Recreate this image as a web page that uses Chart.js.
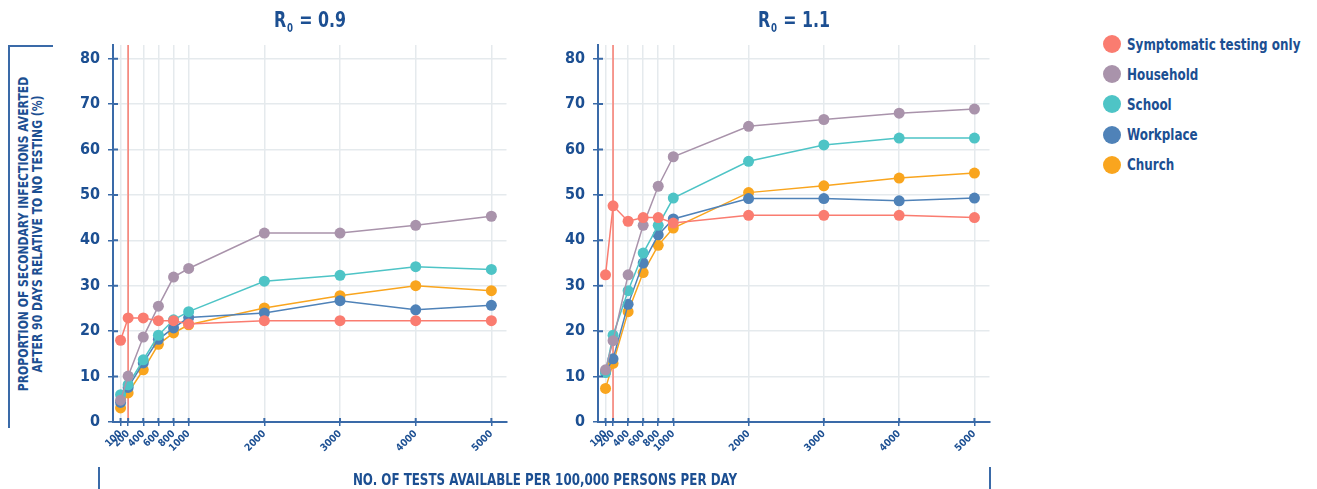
<!DOCTYPE html>
<html>
<head>
<meta charset="utf-8">
<script src="https://cdn.jsdelivr.net/npm/chart.js@4.4.1/dist/chart.umd.min.js"></script>
<style>
	body { margin: 0; width: 1317px; height: 489px; background: #fff; position: relative; overflow: hidden;
		font-family: "DejaVu Sans Condensed", "Liberation Sans", Roboto, sans-serif; color: #1c4f92; }
	canvas { position: absolute; top: 0; }
	#lowChart { left: 60px; }
	#highChart { left: 545px; }
	.title { position: absolute; top: 21px; transform: translate(-50%, -50%) scaleX(0.8); white-space: nowrap;
		font-weight: bold; font-size: 22px; }
	.title sub { font-size: 12px; vertical-align: -5px; margin: 0 1px; }
	#yBox { position: absolute; left: 8px; top: 45px; width: 45px; height: 383px;
		border-left: 2px solid #3a6aa8; border-top: 2px solid #3a6aa8; box-sizing: border-box; }
	#yTitle { position: absolute; left: 30px; top: 234px; width: 420px;
		transform: translate(-50%, -50%) rotate(-90deg) scaleX(0.86);
		text-align: center; font-weight: bold; font-size: 14px; line-height: 14px; }
	#xTitle { position: absolute; left: 545px; top: 480px; transform: translate(-50%, -50%) scaleX(0.88); white-space: nowrap;
		font-weight: bold; font-size: 15px; }
	.xMark { position: absolute; top: 467px; width: 2px; height: 22px; background: #3a6aa8; }
	#legend { position: absolute; left: 1103px; top: 29px; }
	.item { height: 30.2px; display: flex; align-items: center; font-weight: bold; font-size: 16px; white-space: nowrap; }
	.item span.txt { display: inline-block; transform: scaleX(0.83); transform-origin: left center; }
	.dot { width: 18px; height: 18px; border-radius: 50%; margin-right: 6px; flex: none; }
</style>
</head>
<body>
<div id="yBox"></div>
<div id="yTitle">PROPORTION OF SECONDARY INFECTIONS AVERTED<br>AFTER 90 DAYS RELATIVE TO NO TESTING (%)</div>
<canvas id="lowChart" width="452" height="489"></canvas>
<canvas id="highChart" width="450" height="489"></canvas>
<div class="title" style="left:310px">R<sub>0</sub> = 0.9</div>
<div class="title" style="left:794px">R<sub>0</sub> = 1.1</div>
<div class="xMark" style="left:98px"></div>
<div class="xMark" style="left:989px"></div>
<div id="xTitle">NO. OF TESTS AVAILABLE PER 100,000 PERSONS PER DAY</div>
<div id="legend"></div>

<script>
// tests available per 100,000 persons per day
const tests = [100, 200, 400, 600, 800, 1000, 2000, 3000, 4000, 5000];
const xTicks = [100, 200, 400, 600, 800, 1000, 2000, 3000, 4000, 5000];
const yTicks = [0, 10, 20, 30, 40, 50, 60, 70, 80];
const refTests = 200;

const seriesNames = ['Symptomatic testing only', 'Household', 'School', 'Workplace', 'Church'];
const seriesColors = ['#fa7c70', '#a993ab', '#4ec4c6', '#4f82b8', '#f9a51e'];

// R0 = 0.9
const symptomaticLow = [18.0, 22.9, 22.9, 22.3, 22.3, 21.6, 22.3, 22.3, 22.3, 22.3];
const householdLow = [4.8, 10.1, 18.7, 25.5, 31.9, 33.8, 41.6, 41.6, 43.3, 45.3];
const schoolLow = [6.0, 8.2, 13.7, 19.1, 22.5, 24.3, 31.0, 32.3, 34.2, 33.6];
const workplaceLow = [4.3, 7.6, 13.0, 18.2, 20.7, 23.0, 24.0, 26.7, 24.7, 25.7];
const churchLow = [3.1, 6.4, 11.5, 17.1, 19.6, 21.4, 25.1, 27.8, 30.0, 28.9];

// R0 = 1.1
const symptomaticHigh = [32.4, 47.6, 44.2, 45.0, 45.0, 43.8, 45.5, 45.5, 45.5, 45.0];
const householdHigh = [11.5, 17.9, 32.4, 43.3, 51.9, 58.4, 65.1, 66.6, 68.0, 68.9];
const schoolHigh = [10.9, 19.1, 28.9, 37.2, 43.3, 49.3, 57.4, 61.0, 62.5, 62.5];
const workplaceHigh = [11.0, 13.9, 25.9, 35.0, 41.2, 44.7, 49.2, 49.2, 48.7, 49.3];
const churchHigh = [7.4, 12.9, 24.3, 32.9, 38.9, 42.7, 50.5, 52.0, 53.7, 54.8];

const FONT = '"DejaVu Sans Condensed", "Liberation Sans", Roboto, sans-serif';
const textColor = '#1c4f92';
const axisColor = '#3a6aa8';
const gridColor = '#e5eaed';
const Y_MAX = 83;

// tick marks that cross the axis line (draws the part inside the plot)
const innerTicks = {
	id: 'innerTicks',
	afterDraw(chart) {
		const { ctx, chartArea, scales } = chart;
		ctx.save();
		ctx.strokeStyle = axisColor;
		ctx.lineWidth = 2;
		ctx.beginPath();
		scales.x.ticks.forEach((t, i) => {
			const px = scales.x.getPixelForTick(i);
			ctx.moveTo(px, chartArea.bottom);
			ctx.lineTo(px, chartArea.bottom - 4);
		});
		scales.y.ticks.forEach((t, i) => {
			const py = scales.y.getPixelForTick(i);
			ctx.moveTo(chartArea.left, py);
			ctx.lineTo(chartArea.left + 5, py);
		});
		ctx.stroke();
		ctx.restore();
	}
};

function makeChart(id, series) {
	const datasets = series.map((values, i) => ({
		label: seriesNames[i],
		data: tests.map((t, j) => ({ x: t, y: values[j] })),
		borderColor: seriesColors[i],
		backgroundColor: seriesColors[i],
		borderWidth: 1.5,
		pointRadius: 5.5,
		pointBorderWidth: 0,
		order: i
	}));
	// vertical reference line at 200 tests
	datasets.push({
		label: 'ref',
		data: [{ x: refTests, y: 0 }, { x: refTests, y: Y_MAX }],
		borderColor: seriesColors[0],
		borderWidth: 1.5,
		pointRadius: 0,
		order: 10
	});

	new Chart(document.getElementById(id), {
		type: 'line',
		data: { datasets },
		plugins: [innerTicks],
		options: {
			responsive: false,
			animation: false,
			layout: { padding: { top: 45, right: 5, bottom: 0, left: 0 } },
			plugins: {
				legend: { display: false },
				tooltip: { enabled: false }
			},
			scales: {
				x: {
					type: 'linear',
					min: 0,
					max: 5200,
					afterBuildTicks: s => { s.ticks = xTicks.map(v => ({ value: v })); },
					afterFit: s => { s.height = 67; },
					border: { color: axisColor, width: 2 },
					grid: { color: gridColor, tickColor: axisColor, tickLength: 4, lineWidth: 1.5 },
					ticks: { autoSkip: false, minRotation: 45, maxRotation: 45, color: textColor, padding: 2,
						callback: v => String(v),
						font: { family: FONT, size: 10, weight: 'bold' } }
				},
				y: {
					min: 0,
					max: Y_MAX,
					afterBuildTicks: s => { s.ticks = yTicks.map(v => ({ value: v })); },
					afterFit: s => { s.width = 53; },
					border: { color: axisColor, width: 2 },
					grid: { color: gridColor, tickColor: axisColor, tickLength: 5, lineWidth: 1.5 },
					ticks: { color: textColor, padding: 8, font: { family: FONT, size: 16, weight: 'bold' } }
				}
			}
		}
	});
}

makeChart('lowChart', [symptomaticLow, householdLow, schoolLow, workplaceLow, churchLow]);
makeChart('highChart', [symptomaticHigh, householdHigh, schoolHigh, workplaceHigh, churchHigh]);

// legend
const legend = document.getElementById('legend');
seriesNames.forEach((name, i) => {
	const item = document.createElement('div');
	item.className = 'item';
	item.innerHTML = `<span class="dot" style="background:${seriesColors[i]}"></span><span class="txt">${name}</span>`;
	legend.appendChild(item);
});
</script>
</body>
</html>
